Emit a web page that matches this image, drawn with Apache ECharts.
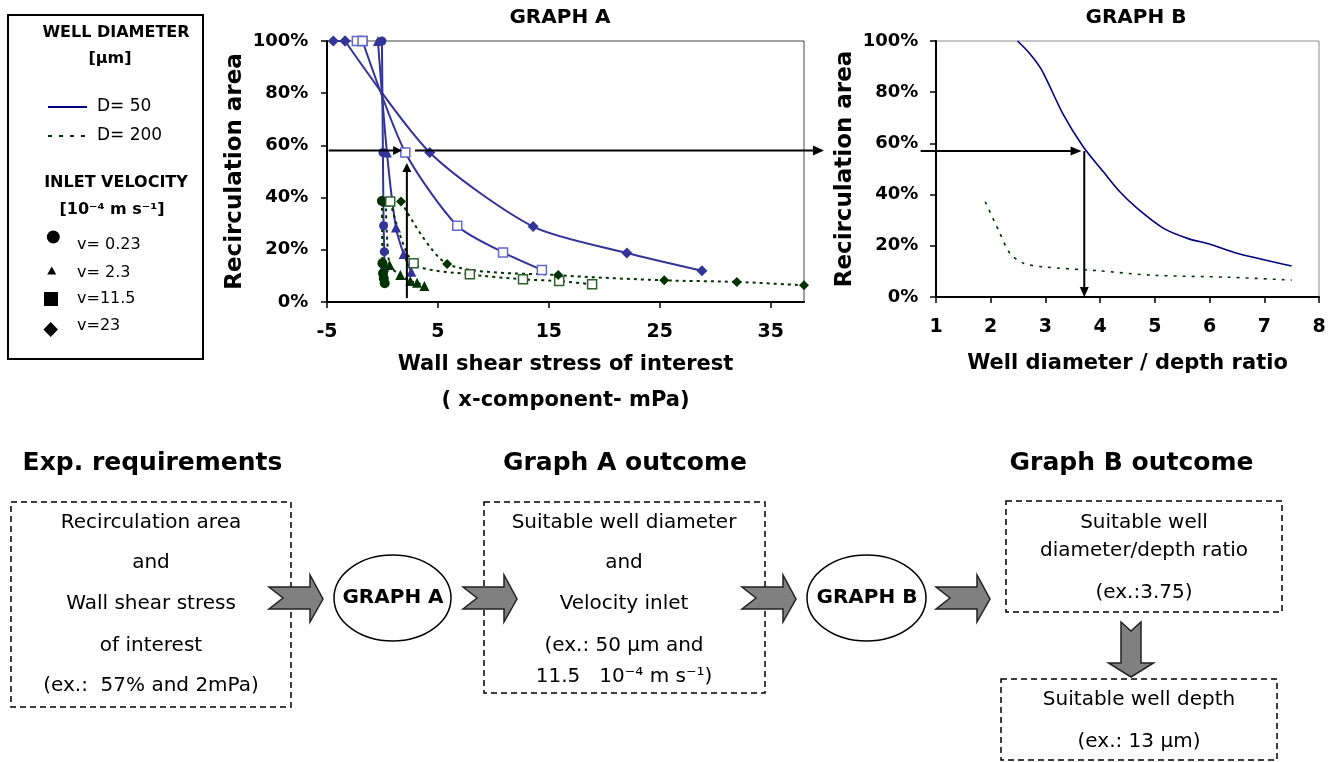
<!DOCTYPE html>
<html><head><meta charset="utf-8">
<script src="https://cdn.jsdelivr.net/npm/echarts@6/dist/echarts.min.js"></script>
<style>html,body{margin:0;padding:0;background:#fff}#c{width:1338px;height:762px}</style>
</head><body><div id="c"></div>
<script>
// ---------- DATA ----------
const recircTicks = [0, 20, 40, 60, 80, 100];
const shearTicks = [-5, 5, 15, 25, 35];
const ratioTicks = [1, 2, 3, 4, 5, 6, 7, 8];

// Graph A : wall shear stress (mPa) vs recirculation area (%)
// D = 50 um
const d50_v023_shear = [-0.05, 0.04, 0.10, 0.16, 0.20];
const d50_v023_recirc = [100, 57.3, 29.2, 19.3, 12.5];
const d50_v23_shear = [-0.41, 0.40, 1.22, 1.91, 2.60];
const d50_v23_recirc = [100, 57.3, 28.5, 18.4, 11.6];
const d50_v115_shear = [-2.31, -1.80, 2.06, 6.74, 10.87, 14.37];
const d50_v115_recirc = [100, 100, 57.3, 29.2, 19.0, 12.3];
const d50_v230_shear = [-4.43, -3.37, 4.26, 13.58, 22.03, 28.8];
const d50_v230_recirc = [100, 100, 57.3, 28.9, 18.8, 12.0];
// D = 200 um
const d200_v023_shear = [-0.05, 0.00, 0.05, 0.12, 0.20];
const d200_v023_recirc = [38.7, 14.8, 11.0, 9.0, 7.2];
const d200_v23_shear = [0.30, 0.64, 1.61, 2.51, 3.12, 3.78];
const d200_v23_recirc = [38.5, 14.2, 10.3, 8.0, 7.4, 6.1];
const d200_v115_shear = [0.70, 2.81, 7.88, 12.67, 15.93, 18.9];
const d200_v115_recirc = [38.5, 14.8, 10.6, 8.7, 8.0, 6.8];
const d200_v230_shear = [1.67, 5.83, 15.84, 25.4, 31.95, 38.0];
const d200_v230_recirc = [38.5, 14.6, 10.3, 8.3, 7.7, 6.4];

// Graph B : well diameter / depth ratio vs recirculation area (%)
const d50_ratio = [2.49, 2.70, 2.93, 3.33, 3.69, 4.06, 4.36, 4.70, 5.16, 5.61, 6.01, 6.50, 7.50];
const d50_ratio_recirc = [100, 95.4, 88.7, 71.1, 58.7, 48.9, 41.1, 34.2, 26.8, 22.8, 20.6, 17.1, 12.1];
const d200_ratio = [1.90, 2.14, 2.35, 2.60, 2.95, 3.94, 4.97, 6.37, 7.50];
const d200_ratio_recirc = [37.2, 26.2, 17.1, 13.2, 11.8, 10.3, 8.5, 7.7, 6.6];

// Example reading
const exRecirc = 57;      // %
const exShear = 2.2;      // mPa
const exRatio = 3.71;

// ---------- CHART ----------
const FONT = 'DejaVu Sans';
const BLUE = '#333399', BLUE_L = '#6666cc', GREEN = '#003300', GREEN_SQ = '#2f5f2f';
const chart = echarts.init(document.getElementById('c'), null, {renderer: 'canvas'});
const zip = (xs, ys) => xs.map((x, i) => [x, ys[i]]);

function axisBase(margin, size) {
  return {
    axisLine: {show: true, onZero: false, lineStyle: {color: '#000', width: 2}},
    axisTick: {show: true, inside: false, length: 6, lineStyle: {color: '#000', width: 1.5}},
    splitLine: {show: false},
    axisLabel: {show: true, margin: margin, color: '#000', fontFamily: FONT, fontWeight: 'bold', fontSize: size}
  };
}

function lineSeries(name, data, idx, o) {
  return Object.assign({
    type: 'line', name: name, xAxisIndex: idx, yAxisIndex: idx,
    data: data, clip: false, smooth: 0.25, animation: false
  }, o);
}
// A plateau at the start (equal first values) is drawn straight, the rest smoothed.
function seriesA(name, xs, ys, o) {
  const d = zip(xs, ys);
  if (ys.length > 2 && ys[0] === ys[1]) {
    return [
      lineSeries(name, d.slice(1), 0, o),
      lineSeries(name + ' plateau', d.slice(0, 2), 0, Object.assign({}, o, {smooth: false}))
    ];
  }
  return [lineSeries(name, d, 0, o)];
}
const blueLine = {color: BLUE, width: 2};
const greenLine = {color: GREEN, width: 2, type: [3, 4]};

const series = [].concat(
  seriesA('D=50 v=0.23', d50_v023_shear, d50_v023_recirc, {symbol: 'circle', symbolSize: 9, itemStyle: {color: BLUE}, lineStyle: blueLine}),
  seriesA('D=50 v=2.3', d50_v23_shear, d50_v23_recirc, {symbol: 'triangle', symbolSize: 10, itemStyle: {color: BLUE}, lineStyle: blueLine}),
  seriesA('D=50 v=11.5', d50_v115_shear, d50_v115_recirc, {symbol: 'rect', symbolSize: 9, itemStyle: {color: '#fff', borderColor: BLUE_L, borderWidth: 1.5}, lineStyle: blueLine}),
  seriesA('D=50 v=23', d50_v230_shear, d50_v230_recirc, {symbol: 'diamond', symbolSize: 11, itemStyle: {color: BLUE}, lineStyle: blueLine}),
  seriesA('D=200 v=0.23', d200_v023_shear, d200_v023_recirc, {symbol: 'circle', symbolSize: 10, itemStyle: {color: GREEN}, lineStyle: greenLine}),
  seriesA('D=200 v=2.3', d200_v23_shear, d200_v23_recirc, {symbol: 'triangle', symbolSize: 10, itemStyle: {color: GREEN}, lineStyle: greenLine}),
  seriesA('D=200 v=11.5', d200_v115_shear, d200_v115_recirc, {symbol: 'rect', symbolSize: 9, itemStyle: {color: '#fff', borderColor: GREEN_SQ, borderWidth: 1.5}, lineStyle: greenLine}),
  seriesA('D=200 v=23', d200_v230_shear, d200_v230_recirc, {symbol: 'diamond', symbolSize: 10, itemStyle: {color: GREEN}, lineStyle: greenLine}),
  [
    lineSeries('B D=50', zip(d50_ratio, d50_ratio_recirc), 1, {symbol: 'none', smooth: 0.3, lineStyle: {color: '#000080', width: 1.6}}),
    lineSeries('B D=200', zip(d200_ratio, d200_ratio_recirc), 1, {symbol: 'none', smooth: 0.3, lineStyle: {color: GREEN, width: 1.6, type: [3, 6]}})
  ]
);

const option = {
  animation: false,
  backgroundColor: '#fff',
  textStyle: {fontFamily: FONT},
  grid: [
    {left: 327, top: 41, width: 477, height: 261, show: true, borderColor: '#444', borderWidth: 1, backgroundColor: 'transparent', outerBoundsMode: 'none'},
    {left: 936, top: 41, width: 383, height: 256, show: true, borderColor: '#8c8c8c', borderWidth: 1, backgroundColor: 'transparent', outerBoundsMode: 'none'}
  ],
  xAxis: [
    Object.assign(axisBase(21, 19), {
      type: 'value', gridIndex: 0, min: shearTicks[0], max: 38, interval: 10,
      name: 'Wall shear stress of interest\n( x-component- mPa)', nameLocation: 'middle', nameGap: 45,
      nameTextStyle: {fontFamily: FONT, fontWeight: 'bold', fontSize: 21, color: '#000', lineHeight: 36}
    }),
    Object.assign(axisBase(20.5, 19), {
      type: 'value', gridIndex: 1, min: ratioTicks[0], max: ratioTicks[ratioTicks.length - 1], interval: 1,
      name: 'Well diameter / depth ratio', nameLocation: 'middle', nameGap: 49,
      nameTextStyle: {fontFamily: FONT, fontWeight: 'bold', fontSize: 21, color: '#000', lineHeight: 36}
    })
  ],
  yAxis: [
    Object.assign(axisBase(18.7, 18), {
      type: 'value', gridIndex: 0, min: recircTicks[0], max: recircTicks[recircTicks.length - 1], interval: 20,
      name: 'Recirculation area', nameLocation: 'middle', nameGap: 80,
      nameTextStyle: {fontFamily: FONT, fontWeight: 'bold', fontSize: 23, color: '#000'}
    }),
    Object.assign(axisBase(17.7, 18), {
      type: 'value', gridIndex: 1, min: recircTicks[0], max: recircTicks[recircTicks.length - 1], interval: 20,
      name: 'Recirculation area', nameLocation: 'middle', nameGap: 79,
      nameTextStyle: {fontFamily: FONT, fontWeight: 'bold', fontSize: 23, color: '#000'}
    })
  ],
  series: series
};
option.xAxis[0].axisTick.customValues = shearTicks;
option.xAxis[0].axisLabel.customValues = shearTicks;
option.yAxis[0].axisLabel.formatter = '{value}%';
option.yAxis[1].axisLabel.formatter = '{value}%';
chart.setOption(option);

// ---------- ANNOTATIONS & DIAGRAM ----------
const pA = (x, y) => chart.convertToPixel({gridIndex: 0}, [x, y]);
const pB = (x, y) => chart.convertToPixel({gridIndex: 1}, [x, y]);

function arrow(p0, p1, len, half) {
  const dx = p1[0] - p0[0], dy = p1[1] - p0[1];
  const L = Math.sqrt(dx * dx + dy * dy);
  const ux = dx / L, uy = dy / L, nx = -uy, ny = ux;
  const bx = p1[0] - ux * len, by = p1[1] - uy * len;
  return [
    {type: 'line', z: 100, shape: {x1: p0[0], y1: p0[1], x2: bx + ux * 1, y2: by + uy * 1}, style: {stroke: '#000', lineWidth: 2}},
    {type: 'polygon', z: 100, shape: {points: [[p1[0], p1[1]], [bx + nx * half, by + ny * half], [bx - nx * half, by - ny * half]]}, style: {fill: '#000'}}
  ];
}

function txt(x, y, text, font, align) {
  return {type: 'text', z: 60, style: {x: x, y: y, text: text, font: font, fill: '#000',
    textAlign: align || 'center', align: align || 'center', textVerticalAlign: 'middle', verticalAlign: 'middle'}};
}
function blockArrowRight(x0) {
  return {type: 'polygon', z: 40, shape: {points: [[x0, 587], [x0 + 41, 587], [x0 + 41, 575], [x0 + 54, 599], [x0 + 41, 622], [x0 + 41, 609], [x0, 609], [x0 + 14, 598]]},
    style: {fill: '#808080', stroke: '#222', lineWidth: 1.5}};
}
const dashBox = (x, y, w, h) => ({type: 'rect', z: 30, shape: {x: x, y: y, width: w, height: h}, style: {fill: 'none', stroke: '#000', lineWidth: 1.5, lineDash: [6, 4]}});

const g = [];
// reading arrows
const yA = exRecirc + 1;
g.push(...arrow(pA(-4.85, yA), pA(1.77, yA), 9, 4.5));
g.push(...arrow(pA(2.94, yA), pA(39.8, yA), 11, 5));
g.push(...arrow(pA(exShear, 1.5), pA(exShear, 53.3), 9, 4.5));
g.push(...arrow(pB(0.72, exRecirc), pB(3.66, exRecirc), 11, 4.5));
g.push(...arrow(pB(exRatio, exRecirc), pB(exRatio, 0), 10, 4.5));

// titles
g.push(txt(560, 18, 'GRAPH A', 'bold 20px "DejaVu Sans"'));
g.push(txt(1136, 18, 'GRAPH B', 'bold 20px "DejaVu Sans"'));

// legend box
const LF = '"DejaVu Sans"';
g.push({type: 'rect', z: 30, shape: {x: 8, y: 15, width: 195, height: 344}, style: {fill: 'none', stroke: '#000', lineWidth: 2}});
g.push(txt(116, 33, 'WELL DIAMETER', 'bold 16px ' + LF));
g.push(txt(110, 59, '[µm]', 'bold 16px ' + LF));
g.push({type: 'line', z: 30, shape: {x1: 48, y1: 107, x2: 87, y2: 107}, style: {stroke: '#000080', lineWidth: 2}});
g.push(txt(97, 107, 'D= 50', '17px ' + LF, 'left'));
g.push({type: 'line', z: 30, shape: {x1: 48, y1: 136, x2: 87, y2: 136}, style: {stroke: GREEN, lineWidth: 2, lineDash: [4, 7]}});
g.push(txt(97, 136, 'D= 200', '17px ' + LF, 'left'));
g.push(txt(116, 183, 'INLET VELOCITY', 'bold 16px ' + LF));
g.push(txt(112, 210, '[10⁻⁴ m s⁻¹]', 'bold 16px ' + LF));
g.push({type: 'circle', z: 30, shape: {cx: 53.3, cy: 237, r: 6.5}, style: {fill: '#000'}});
g.push(txt(77, 245, 'v= 0.23', '16px ' + LF, 'left'));
g.push({type: 'polygon', z: 30, shape: {points: [[51.7, 266.5], [56.2, 274.5], [47.2, 274.5]]}, style: {fill: '#000'}});
g.push(txt(77, 272.5, 'v= 2.3', '16px ' + LF, 'left'));
g.push({type: 'rect', z: 30, shape: {x: 44, y: 292, width: 14, height: 14}, style: {fill: '#000'}});
g.push(txt(77, 299, 'v=11.5', '16px ' + LF, 'left'));
g.push({type: 'polygon', z: 30, shape: {points: [[50.7, 322], [58, 329.5], [50.7, 337], [43.4, 329.5]]}, style: {fill: '#000'}});
g.push(txt(77, 326, 'v=23', '16px ' + LF, 'left'));

// flow diagram
const HF = 'bold 25px ' + LF, BF = '20px ' + LF;
g.push(txt(152.5, 463, 'Exp. requirements', HF));
g.push(txt(625, 463, 'Graph A outcome', HF));
g.push(txt(1131.5, 463, 'Graph B outcome', HF));

g.push(dashBox(11, 502, 280, 205));
[['Recirculation area', 522.7], ['and', 563], ['Wall shear stress', 604], ['of interest', 646], ['(ex.:  57% and 2mPa)', 686]]
  .forEach(l => g.push(txt(151, l[1], l[0], BF)));
g.push(dashBox(484, 502, 281, 191));
[['Suitable well diameter', 522.7], ['and', 563], ['Velocity inlet', 604], ['(ex.: 50 µm and', 646], ['11.5   10⁻⁴ m s⁻¹)', 677]]
  .forEach(l => g.push(txt(624, l[1], l[0], BF)));
g.push(dashBox(1006, 501, 276, 111));
[['Suitable well', 522.7], ['diameter/depth ratio', 550.7], ['(ex.:3.75)', 592.7]]
  .forEach(l => g.push(txt(1144, l[1], l[0], BF)));
g.push(dashBox(1001, 679, 276, 81));
[['Suitable well depth', 700], ['(ex.: 13 µm)', 741.7]]
  .forEach(l => g.push(txt(1139, l[1], l[0], BF)));

[269, 463, 742, 936].forEach(x => g.push(blockArrowRight(x)));
g.push({type: 'polygon', z: 40, shape: {points: [[1121, 622], [1131, 631], [1141, 622], [1141, 663], [1153.5, 663], [1131, 677], [1108.5, 663], [1121, 663]]},
  style: {fill: '#808080', stroke: '#222', lineWidth: 1.5}});

g.push({type: 'ellipse', z: 40, shape: {cx: 392.5, cy: 598, rx: 58.5, ry: 43}, style: {fill: '#fff', stroke: '#000', lineWidth: 1.5}});
g.push(txt(393, 598, 'GRAPH A', 'bold 20px ' + LF));
g.push({type: 'ellipse', z: 40, shape: {cx: 866.5, cy: 598, rx: 59.5, ry: 43}, style: {fill: '#fff', stroke: '#000', lineWidth: 1.5}});
g.push(txt(867, 598, 'GRAPH B', 'bold 20px ' + LF));

chart.setOption({graphic: g});
</script></body></html>
